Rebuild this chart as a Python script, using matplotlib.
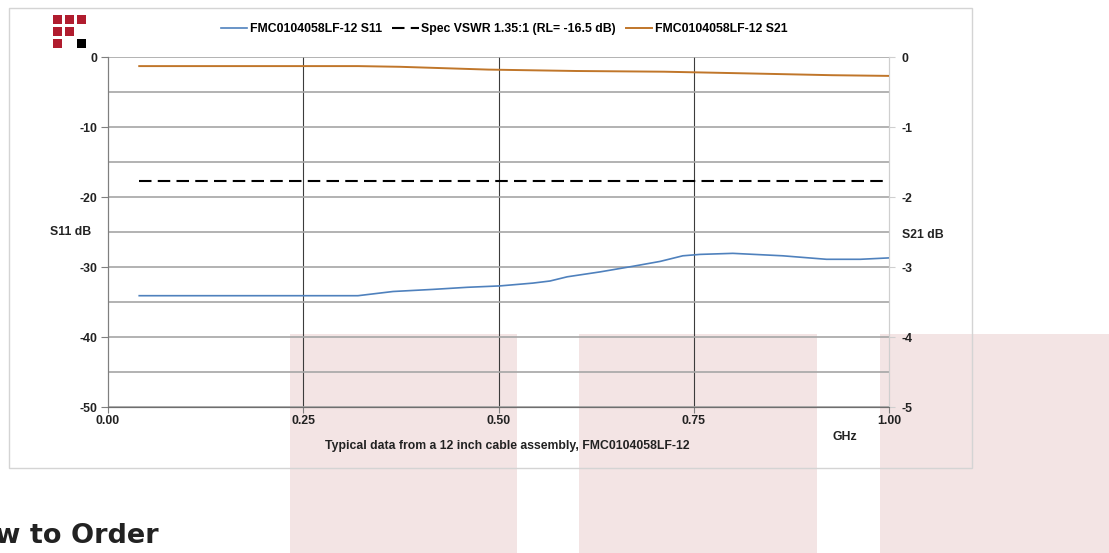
import matplotlib.pyplot as plt
from matplotlib.patches import Rectangle

# Data
freq_s11 = [0.04, 0.10, 0.20, 0.32, 0.365, 0.416, 0.46, 0.502, 0.544, 0.566, 0.588,
            0.63, 0.672, 0.707, 0.736, 0.758, 0.80, 0.864, 0.92, 0.963, 1.00]
s11_db = [-34.1, -34.1, -34.1, -34.1, -33.5, -33.2, -32.9, -32.7, -32.3, -32.0, -31.4,
          -30.7, -29.9, -29.2, -28.4, -28.2, -28.05, -28.4, -28.9, -28.9, -28.7]
freq_s21 = [0.04, 0.25, 0.32, 0.374, 0.487, 0.60, 0.712, 0.80, 0.927, 1.00]
s21_db = [-0.13, -0.13, -0.13, -0.14, -0.18, -0.20, -0.21, -0.23, -0.26, -0.27]
spec_freq = [0.04, 1.00]
spec_db = [-17.7, -17.7]

s11_label = 'FMC0104058LF-12 S11'
spec_label = 'Spec VSWR 1.35:1 (RL= -16.5 dB)'
s21_label = 'FMC0104058LF-12 S21'
caption = 'Typical data from a 12 inch cable assembly, FMC0104058LF-12'

x_ticks = [0.0, 0.25, 0.5, 0.75, 1.0]
left_ticks = [0, -10, -20, -30, -40, -50]
right_ticks = [0, -1, -2, -3, -4, -5]

W, H = 1109, 553
BLUE = '#4f81bd'
ORANGE = '#c0762a'
PINK = '#f3e4e4'
RED = '#b01c2e'
FS = 8.8

plt.rcParams['font.family'] = ['Liberation Sans', 'DejaVu Sans']
plt.rcParams['axes.unicode_minus'] = False


def fx(px):
    return px / W


def fy(py):
    return 1 - py / H


fig = plt.figure(figsize=(W / 100, H / 100), dpi=100)

# pink page stripes behind everything
for x0, x1 in [(290, 517), (579, 817), (880, 1109)]:
    fig.patches.append(Rectangle((fx(x0), 0), fx(x1) - fx(x0), fy(334), transform=fig.transFigure,
                                 facecolor=PINK, edgecolor='none', zorder=-5))

# chart frame
fig.patches.append(Rectangle((fx(9), fy(468)), fx(972) - fx(9), fy(8) - fy(468), transform=fig.transFigure,
                             facecolor='none', edgecolor='#d4d4d4', lw=1, zorder=-4))

# logo squares
logo = [(0, 0, RED), (1, 0, RED), (2, 0, RED), (0, 1, RED), (1, 1, RED), (0, 2, RED), (2, 2, 'black')]
for c, r, col in logo:
    x0, y0 = 53 + 12 * c, 15 + 12 * r
    fig.patches.append(Rectangle((fx(x0), fy(y0 + 9)), fx(9), 9 / H, transform=fig.transFigure,
                                 facecolor=col, edgecolor='none', zorder=2))

ax = fig.add_axes([fx(108), fy(407), fx(889) - fx(108), fy(57) - fy(407)])
ax.patch.set_visible(False)
ax.set_zorder(2)
ax2 = ax.twinx()
ax2.patch.set_visible(False)
ax2.set_zorder(3)

l1, = ax.plot(freq_s11, s11_db, color=BLUE, lw=1.2, zorder=4)
l2, = ax.plot(spec_freq, spec_db, color='black', lw=1.5, ls=(0, (6, 3)), zorder=4)
l3, = ax2.plot(freq_s21, s21_db, color=ORANGE, lw=1.4, zorder=4)

ax.set_xlim(0, 1)
ax.set_ylim(-50, 0)
ax2.set_ylim(-5, 0)

# keep minor ticks that sit on major ticks, they carry the inner vertical grid
ax.xaxis.remove_overlapping_locs = False
ax.set_xticks(x_ticks)
ax.set_xticklabels([f'{v:.2f}' for v in x_ticks])
ax.set_xticks([0.25, 0.5, 0.75], minor=True)
ax.set_yticks(left_ticks)
ax.set_yticks([-5, -15, -25, -35, -45], minor=True)
ax2.set_yticks(right_ticks)

ax.grid(axis='y', which='both', color='#a6a6a6', lw=1.2, zorder=1)
ax.grid(axis='x', which='minor', color='#3c3c3c', lw=0.8, zorder=1)
ax.set_axisbelow(True)

for a in (ax, ax2):
    a.spines['top'].set_visible(False)
    a.spines['left'].set_color('#7f7f7f')
    a.spines['right'].set_color('#cfcfcf')
    a.spines['bottom'].set_color('#6e6e6e')

ax.tick_params(axis='y', which='major', length=5, color='#7f7f7f', labelsize=FS, pad=3)
ax.tick_params(axis='y', which='minor', length=0)
ax.tick_params(axis='x', which='major', length=4, color='#7f7f7f', labelsize=FS, pad=2)
ax.tick_params(axis='x', which='minor', length=0)
ax2.tick_params(axis='y', length=4, color='#cfcfcf', labelsize=FS, pad=5)
for lab in ax.get_xticklabels() + ax.get_yticklabels() + ax2.get_yticklabels():
    lab.set_fontweight('bold')
    lab.set_color('#222222')

fig.text(fx(71), fy(232), 'S11 dB', ha='center', va='center', fontsize=FS, fontweight='bold', color='#222222')
fig.text(fx(902), fy(235), 'S21 dB', ha='left', va='center', fontsize=FS, fontweight='bold', color='#222222')
fig.text(fx(845), fy(437), 'GHz', ha='center', va='center', fontsize=FS, fontweight='bold', color='#222222')
fig.text(fx(507), fy(446), caption, ha='center', va='center', fontsize=FS, fontweight='bold', color='#222222')

fig.legend([l1, l2, l3], [s11_label, spec_label, s21_label], loc='center', bbox_to_anchor=(fx(504), fy(29)),
           ncol=3, frameon=False, handlelength=2.2, handletextpad=0.2, columnspacing=0.8,
           prop={'size': FS, 'weight': 'bold'})

fig.text(fx(159), fy(543), 'How to Order', ha='right', va='baseline', fontsize=19.5, fontweight='bold',
         family='DejaVu Sans', color='#222222')

fig.savefig('out.png', dpi=100)
